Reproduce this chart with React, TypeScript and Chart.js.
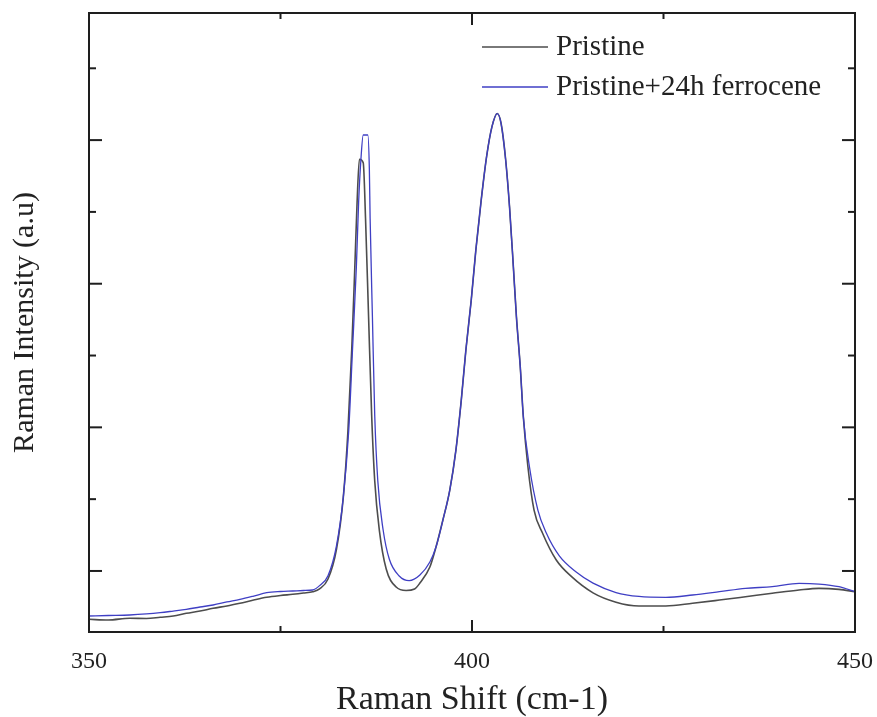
import React, { useEffect, useRef } from "react";
import { Chart, registerables } from "chart.js";

Chart.register(...registerables);

// Raman shift (cm-1) and intensity (a.u.)
const pristineShift = [
  350.0, 352.5, 355.3, 357.5, 359.3, 361.0, 362.7, 364.5, 366.2, 368.0, 369.7, 371.5, 373.2, 375.0,
  376.6, 378.0, 379.2, 380.1, 381.2, 382.3, 383.2, 383.8, 384.3, 384.7, 385.0, 385.3, 385.8, 386.1,
  386.5, 386.9, 387.3, 387.9, 388.8, 390.1, 391.4, 392.5, 393.2, 394.5, 395.3, 396.2, 397.1, 397.9,
  398.6, 399.2, 399.9, 400.5, 401.2, 401.9, 402.6, 403.3, 403.8, 404.4, 404.9, 405.4, 405.8, 406.3,
  406.7, 407.3, 408.1, 409.2, 411.0, 413.0, 415.8, 418.8, 421.8, 425.3, 428.8, 432.3, 435.7, 439.2,
  442.7, 445.3, 447.9, 450.0,
];
const pristineIntensity = [
  1327, 1317, 1341, 1338, 1355, 1373, 1410, 1442, 1480, 1512, 1550, 1595, 1633, 1658,
  1675, 1693, 1711, 1749, 1888, 2298, 3029, 3941, 5082, 6224, 7136, 7734, 7684, 6913,
  5535, 4171, 3256, 2570, 2027, 1776, 1728, 1749, 1832, 2055, 2333, 2709, 3127, 3683,
  4379, 5075, 5771, 6467, 7163, 7766, 8184, 8370, 8231, 7720, 7070, 6235, 5539, 4843,
  4147, 3451, 2848, 2528, 2152, 1920, 1695, 1565, 1512, 1512, 1550, 1595, 1641, 1689,
  1735, 1758, 1744, 1711,
];

const ferroShift = [
  350.0, 352.5, 355.3, 357.5, 359.3, 361.0, 362.7, 364.5, 366.2, 368.0, 369.7, 371.5, 373.2, 375.0,
  376.6, 378.0, 379.2, 380.1, 381.2, 382.3, 383.2, 383.9, 384.4, 384.9, 385.2, 385.5, 385.8, 386.4,
  386.6, 386.7, 387.0, 387.3, 387.7, 388.4, 389.2, 390.5, 391.8, 393.2, 394.5, 395.3, 396.2, 397.1,
  397.9, 398.6, 399.2, 399.9, 400.5, 401.2, 401.9, 402.6, 403.3, 403.8, 404.4, 404.9, 405.4, 405.8,
  406.3, 406.7, 407.5, 408.6, 409.7, 411.4, 413.6, 415.8, 418.8, 421.8, 425.3, 428.8, 432.3, 435.7,
  439.2, 442.7, 445.3, 447.9, 450.0,
];
const ferroIntensity = [
  1373, 1380, 1387, 1401, 1419, 1442, 1466, 1498, 1526, 1568, 1605, 1651, 1697, 1714,
  1721, 1728, 1735, 1796, 1934, 2347, 3029, 3941, 5082, 6224, 7136, 7734, 8071, 8071,
  7595, 6913, 5535, 4171, 3256, 2570, 2166, 1930, 1865, 1943, 2124, 2333, 2709, 3127,
  3683, 4379, 5075, 5771, 6467, 7163, 7766, 8184, 8370, 8231, 7720, 7070, 6235, 5539,
  4843, 4147, 3451, 2848, 2528, 2210, 1985, 1830, 1700, 1645, 1633, 1665, 1711, 1758,
  1781, 1828, 1818, 1781, 1711,
];

const seriesNames = ["Pristine", "Pristine+24h ferrocene"];
const seriesColors = ["#4d4d4d", "#3f3fc4"];

const xMajorTicks = [350, 400, 450];
const xMinorTicks = [375, 425];
const yMajorTicks = [2000, 4000, 6000, 8000];
const yMinorTicks = [3000, 5000, 7000, 9000];

const xTitle = "Raman Shift (cm-1)";
const yTitle = "Raman Intensity (a.u)";

const FONT = "'Liberation Serif', 'Times New Roman', serif";

const framePlugin = {
  id: "frameTicks",
  afterDatasetsDraw(chart: any) {
    const { ctx, chartArea } = chart;
    const { left, right, top, bottom } = chartArea;
    const xs = chart.scales.x;
    const ys = chart.scales.y;
    ctx.save();
    ctx.strokeStyle = "#1e1e1e";
    ctx.lineWidth = 2;
    ctx.strokeRect(left, top, right - left, bottom - top);
    const tick = (x1: number, y1: number, x2: number, y2: number) => {
      ctx.beginPath();
      ctx.moveTo(x1, y1);
      ctx.lineTo(x2, y2);
      ctx.stroke();
    };
    xMajorTicks.forEach((v) => {
      const p = xs.getPixelForValue(v);
      tick(p, bottom, p, bottom - 12);
      tick(p, top, p, top + 12);
    });
    xMinorTicks.forEach((v) => {
      const p = xs.getPixelForValue(v);
      tick(p, bottom, p, bottom - 6);
      tick(p, top, p, top + 6);
    });
    yMajorTicks.forEach((v) => {
      const p = ys.getPixelForValue(v);
      tick(left, p, left + 13, p);
      tick(right, p, right - 13, p);
    });
    yMinorTicks.forEach((v) => {
      const p = ys.getPixelForValue(v);
      tick(left, p, left + 7, p);
      tick(right, p, right - 7, p);
    });

    // legend
    const rows = [47, 87];
    ctx.font = `29px ${FONT}`;
    ctx.textBaseline = "middle";
    ctx.textAlign = "left";
    seriesNames.forEach((name, i) => {
      ctx.strokeStyle = seriesColors[i];
      ctx.lineWidth = 1.5;
      tick(482, rows[i], 548, rows[i]);
      ctx.fillStyle = "#222";
      ctx.fillText(name, 556, rows[i]);
    });
    ctx.restore();
  },
};

export default function App() {
  const ref = useRef<HTMLCanvasElement>(null);
  useEffect(() => {
    if (!ref.current) return;
    const mk = (xs: number[], ys: number[]) => xs.map((x, i) => ({ x, y: ys[i] }));
    const chart = new Chart(ref.current, {
      type: "line",
      data: {
        datasets: [
          {
            label: seriesNames[0],
            data: mk(pristineShift, pristineIntensity),
            borderColor: seriesColors[0],
            borderWidth: 1.6,
            pointRadius: 0,
            cubicInterpolationMode: "monotone",
            order: 1,
          },
          {
            label: seriesNames[1],
            data: mk(ferroShift, ferroIntensity),
            borderColor: seriesColors[1],
            borderWidth: 1.3,
            pointRadius: 0,
            cubicInterpolationMode: "monotone",
            order: 0,
          },
        ],
      },
      options: {
        responsive: false,
        animation: false,
        devicePixelRatio: 1,
        layout: { padding: { left: 0, right: 22, top: 13, bottom: 0 } },
        plugins: { legend: { display: false }, tooltip: { enabled: false } },
        scales: {
          x: {
            type: "linear",
            min: 350,
            max: 450,
            border: { display: false },
            grid: { display: false, drawTicks: false },
            ticks: {
              stepSize: 50,
              padding: 15,
              color: "#222",
              font: { family: FONT, size: 24 },
              maxRotation: 0,
            },
            title: {
              display: true,
              text: xTitle,
              color: "#222",
              font: { family: FONT, size: 34, lineHeight: 1 },
              padding: { top: 0, bottom: 0 },
            },
            afterFit: (s: any) => {
              s.height = 85;
              s.paddingLeft = 0;
              s.paddingRight = 0;
            },
          },
          y: {
            type: "linear",
            min: 1150,
            max: 9770,
            border: { display: false },
            grid: { display: false, drawTicks: false },
            ticks: { display: false },
            title: {
              display: true,
              text: yTitle,
              color: "#222",
              font: { family: FONT, size: 30, lineHeight: 1 },
              padding: { top: 10, bottom: 0 },
            },
            afterFit: (s: any) => {
              s.width = 89;
              s.paddingTop = 0;
              s.paddingBottom = 0;
            },
          },
        },
      },
      plugins: [framePlugin],
    } as any);
    return () => chart.destroy();
  }, []);
  return (
    <div style={{ position: "absolute", left: 0, top: 0, width: 877, height: 717, background: "#fff" }}>
      <canvas ref={ref} width={877} height={717} style={{ display: "block" }} />
    </div>
  );
}
